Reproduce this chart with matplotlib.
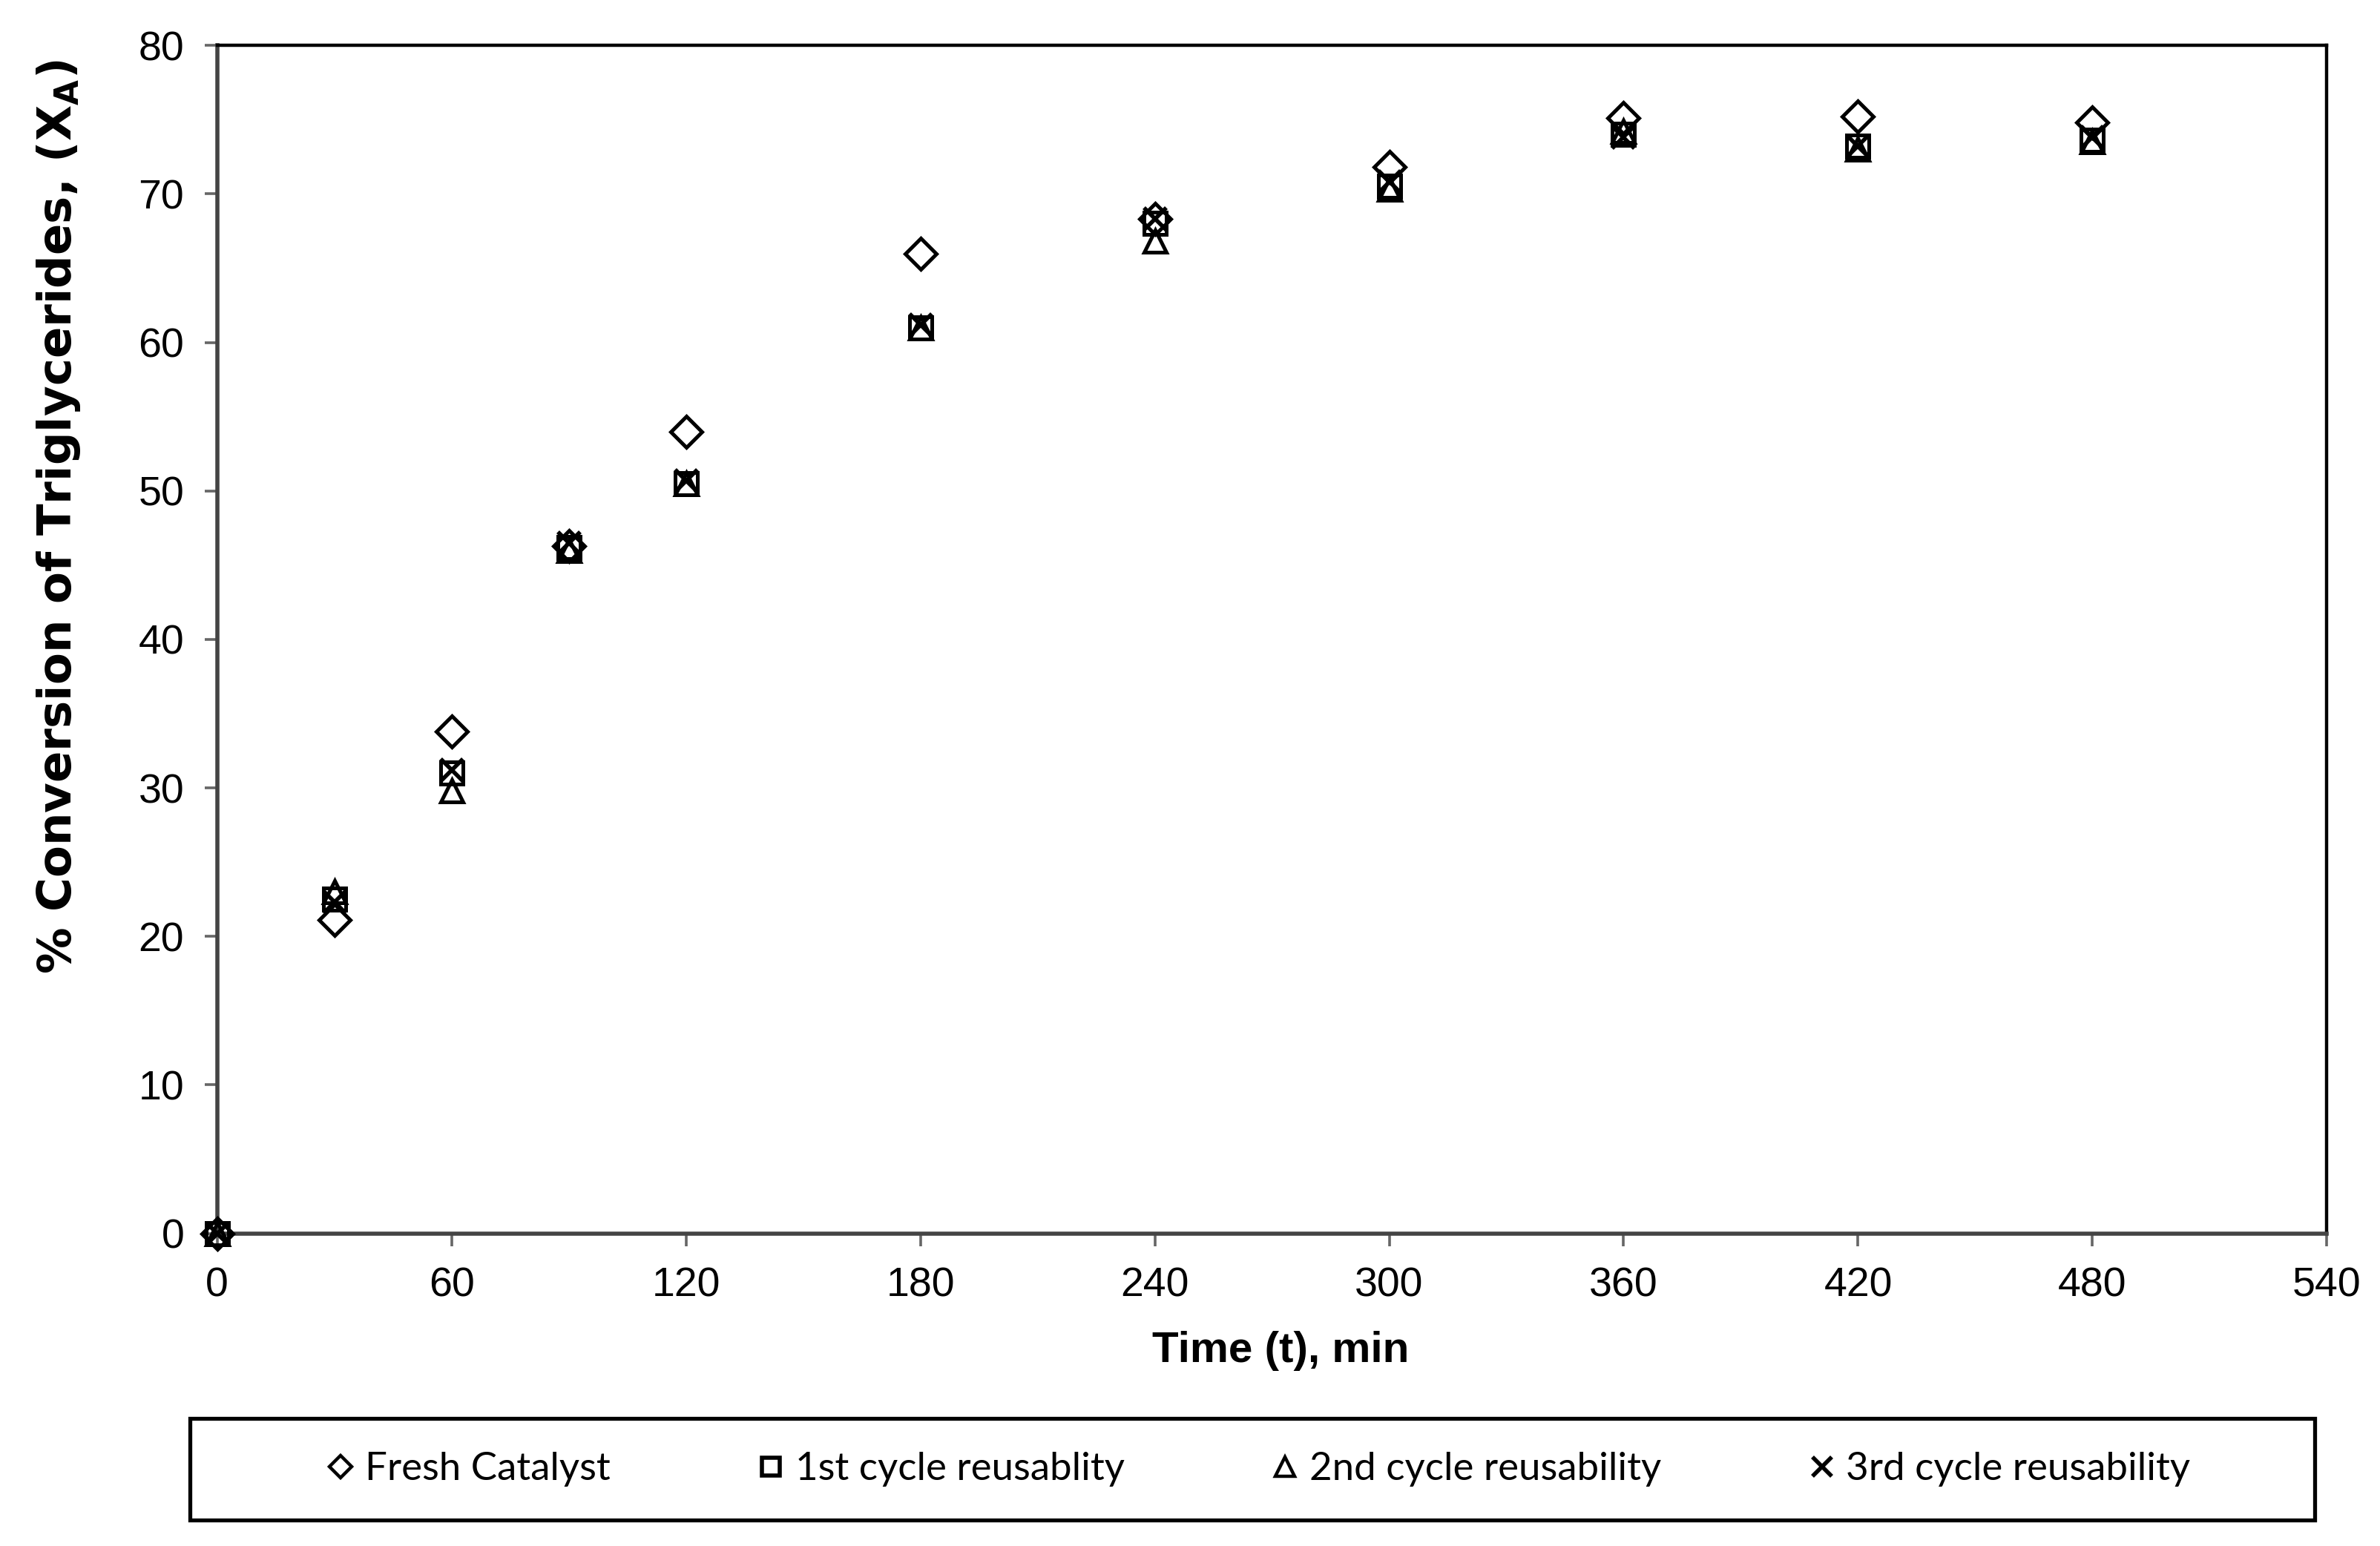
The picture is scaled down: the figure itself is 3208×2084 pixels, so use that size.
import matplotlib
matplotlib.use("Agg")
import matplotlib.pyplot as plt
from matplotlib.lines import Line2D
from matplotlib.patches import Rectangle

plt.rcParams['font.family'] = ['Liberation Sans', 'DejaVu Sans']
plt.rcParams['mathtext.fontset'] = 'dejavusans'

time_min = [0, 30, 60, 90, 120, 180, 240, 300, 360, 420, 480]
fresh = [0, 21.1, 33.8, 46.3, 54.0, 66.0, 68.3, 71.8, 75.1, 75.2, 74.8]
cycle1 = [0, 22.5, 31.0, 46.2, 50.5, 61.0, 68.0, 70.5, 74.0, 73.2, 73.6]
cycle2 = [0, 23.0, 29.8, 46.0, 50.5, 61.0, 66.8, 70.3, 74.2, 73.0, 73.5]
cycle3 = [0, 22.3, 31.2, 46.5, 50.7, 61.2, 68.3, 70.8, 73.8, 73.2, 73.8]
labels = ["Fresh Catalyst", "1st cycle reusablity", "2nd cycle reusability", "3rd cycle reusability"]
xticks = [0, 60, 120, 180, 240, 300, 360, 420, 480, 540]
yticks = [0, 10, 20, 30, 40, 50, 60, 70, 80]

fig = plt.figure(figsize=(16.04, 10.42), dpi=200)
ax = fig.add_axes([0.0912, 0.2022, 0.8865, 0.7684])

ax.plot(time_min, fresh, linestyle='none', marker='D', ms=10.5, mfc='none', mec='black', mew=1.8, clip_on=False, zorder=3)
ax.plot(time_min, cycle1, linestyle='none', marker='s', ms=11, mfc='none', mec='black', mew=1.8, clip_on=False, zorder=3)
ax.plot(time_min, cycle2, linestyle='none', marker='^', ms=11, mfc='none', mec='black', mew=1.8, clip_on=False, zorder=3)
ax.plot(time_min, cycle3, linestyle='none', marker='x', ms=11, mfc='none', mec='black', mew=2.0, clip_on=False, zorder=3)

ax.set_xlim(0, 540)
ax.set_ylim(0, 80)
ax.set_xticks(xticks)
ax.set_yticks(yticks)
ax.tick_params(axis='both', direction='out', length=6, width=1.3, color='#666666', labelsize=20)
ax.tick_params(axis='y', pad=10)
ax.tick_params(axis='x', pad=10)
for s in ['top', 'right']:
    ax.spines[s].set_linewidth(1.6)
    ax.spines[s].set_color('black')
for s in ['left', 'bottom']:
    ax.spines[s].set_linewidth(2.0)
    ax.spines[s].set_color('#444444')

ax.set_xlabel("Time (t), min", fontsize=21, fontweight='bold')
ax.xaxis.set_label_coords(0.504, -0.082)
ax.set_ylabel("% Conversion of Triglycerides, (X$_\\mathbf{A}$)", fontsize=22.5,
              fontweight='bold', family=['DejaVu Sans'])
ax.yaxis.set_label_coords(-0.064, 0.603)

handles = [
    Line2D([], [], linestyle='none', marker='D', ms=7.5, mfc='none', mec='black', mew=1.6),
    Line2D([], [], linestyle='none', marker='s', ms=8.5, mfc='none', mec='black', mew=2.0),
    Line2D([], [], linestyle='none', marker='^', ms=9.5, mfc='none', mec='black', mew=1.6),
    Line2D([], [], linestyle='none', marker='x', ms=9.5, mfc='none', mec='black', mew=2.0),
]
leg = fig.legend(handles, labels, loc='center', ncol=4,
                 bbox_to_anchor=(0.5285, 0.0496),
                 bbox_transform=fig.transFigure,
                 prop={'family': ['Lato', 'DejaVu Sans'], 'size': 19},
                 frameon=False,
                 handletextpad=0.22, handlelength=0.8, columnspacing=3.7,
                 borderpad=0.5)

frame = Rectangle((0.0797, 0.0167), 0.8929, 0.0657, transform=fig.transFigure,
                  fill=False, edgecolor='black', linewidth=1.9)
fig.patches.append(frame)

fig.savefig("out.png", dpi=200, facecolor='white')
